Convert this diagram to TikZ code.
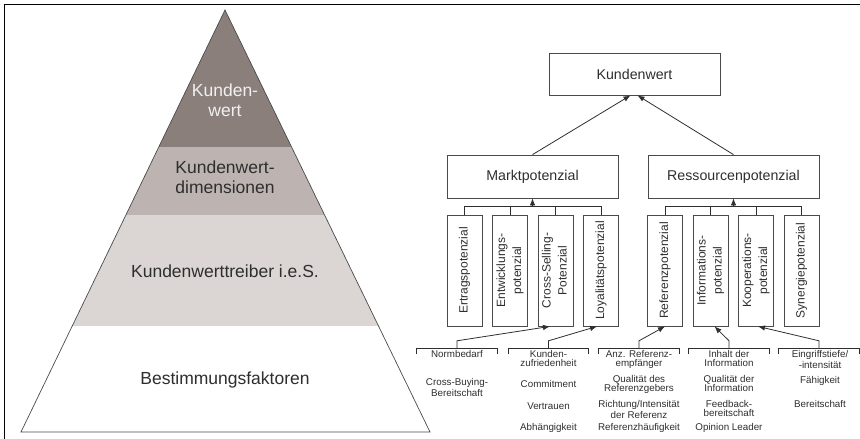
\documentclass[tikz,border=0pt]{standalone}
\usepackage{fontspec}
\setmainfont{Liberation Sans}
\usepackage{graphicx}
\usetikzlibrary{arrows.meta, calc}

\definecolor{pyrtop}{HTML}{8B7F7C}
\definecolor{pyrmid}{HTML}{BDB4B2}
\definecolor{pyrlow}{HTML}{DBD5D3}
\definecolor{ink}{HTML}{2E2E2E}
\definecolor{rim}{HTML}{4A4A4A}

% rotated, centred label for the narrow potential boxes
\newcommand{\vlab}[1]{\rotatebox{90}{\begin{tabular}{@{}c@{}}#1\end{tabular}}}

\begin{document}
\begin{tikzpicture}[x=1pt, y=-1pt,
    line/.style={draw=ink, line width=0.8pt},
    arr/.style={line, -{Latex[length=7pt, width=5.5pt]}},
    box/.style={draw=rim, line width=0.8pt, minimum width=171pt, minimum height=42pt,
        inner sep=0pt, text=ink, font=\fontsize{14.2}{16}\selectfont},
    potbox/.style={draw=rim, line width=0.8pt, minimum width=35pt, minimum height=111pt,
        inner sep=0pt, text=ink, font=\fontsize{12}{16}\selectfont},
    pyrtext/.style={align=center, inner sep=0pt, text=ink, font=\fontsize{17.5}{19.5}\selectfont},
    grp/.style={minimum width=80pt, minimum height=5pt, inner sep=0pt},
    fac/.style={anchor=north, inner sep=0pt, align=center, text=ink,
        font=\fontsize{9.8}{9}\selectfont}]
    % coordinates are image pixels, y grows downwards
    \useasboundingbox (0,0) rectangle (860,439);

    % frame (top and left only)
    \draw[black, line width=0.8pt] (4,439) -- (4,4) -- (860,4);

    % Pyramid
    \coordinate (apex) at (225,10);
    \coordinate (bl) at (21,432);
    \coordinate (br) at (430,432);
    \begin{scope}
        \clip (apex) -- (bl) -- (br) -- cycle;
        \fill[pyrtop] (0,0) rectangle (440,147);
        \fill[pyrmid] (0,147) rectangle (440,215);
        \fill[pyrlow] (0,215) rectangle (440,326);
    \end{scope}
    \draw[rim, line width=0.7pt] (apex) -- (bl) -- (br) -- cycle;

    \node[pyrtext, text=white!94!black] (pkw) at (225,100) {Kunden-\\wert};
    \node[pyrtext] (pdim) at (225,177) {Kundenwert-\\dimensionen};
    \node[pyrtext] (ptr) at (225,271) {Kundenwerttreiber i.e.S.};
    \node[pyrtext] (pbf) at (225,380) {Bestimmungsfaktoren};

    % Hierarchy
    \node[box] (kw) at (634.5,74) {Kundenwert};
    \node[box, minimum height=43pt] (mp) at (532.5,176.5) {Marktpotenzial};
    \node[box, minimum height=43pt] (rp) at (733.5,176.5) {Ressourcenpotenzial};
    \draw[arr] (mp.north) -- ([xshift=-4pt]kw.south);
    \draw[arr] (rp.north) -- ([xshift=3pt]kw.south);

    % potential boxes
    \node[potbox] (ertrag) at (464.5,270.5) {\vlab{Ertragspotenzial}};
    \node[potbox] (entw) at (510,270.5) {\vlab{Entwicklungs-\\potenzial}};
    \node[potbox] (cs) at (555.5,270.5) {\vlab{Cross-Selling-\\Potenzial}};
    \node[potbox] (loyal) at (601,270.5) {\vlab{Loyalitätspotenzial}};
    \node[potbox] (ref) at (665,270.5) {\vlab{Referenzpotenzial}};
    \node[potbox] (info) at (710.5,270.5) {\vlab{Informations-\\potenzial}};
    \node[potbox] (koop) at (756,270.5) {\vlab{Kooperations-\\potenzial}};
    \node[potbox] (syn) at (801.5,270.5) {\vlab{Synergiepotenzial}};

    % buses
    \draw[line] (ertrag.north) -- ++(0,-8) -| (loyal.north);
    \draw[line] (entw.north) -- ++(0,-8);
    \draw[line] (cs.north) -- ++(0,-8);
    \coordinate (mpbus) at ($(mp.south |- ertrag.north)+(0,-8)$);
    \draw[arr] (mpbus) -- (mp.south);
    \draw[line] (ref.north) -- ++(0,-8) -| (syn.north);
    \draw[line] (info.north) -- ++(0,-8);
    \draw[line] (koop.north) -- ++(0,-8);
    \coordinate (rpbus) at ($(rp.south |- ref.north)+(0,-8)$);
    \draw[arr] (rpbus) -- (rp.south);

    % factor groups
    \node[grp] (g1) at (457,351.5) {};
    \node[grp, minimum width=79pt] (g2) at (548.5,351.5) {};
    \node[grp] (g3) at (639,351.5) {};
    \node[grp] (g4) at (729,351.5) {};
    \node[grp] (g5) at (819,351.5) {};
    \foreach \g in {g1,g2,g3,g4,g5}
        \draw[line] (\g.south west) -- (\g.north west) -- (\g.north east) -- (\g.south east);

    \draw[arr] (g1.north) -- ++(0,-8) -- ([xshift=-5.5pt]cs.south);
    \draw[arr] (g2.north) -- ++(0,-8) -- ([xshift=-4pt]loyal.south);
    \draw[arr] (g3.north) -- ++(0,-8) -- (ref.south);
    \draw[arr] (g4.north) -- ++(0,-8) -- ([xshift=4pt]info.south);
    \draw[arr] (g5.north) -- ++(0,-8) -- ([xshift=2pt]koop.south);

    \node[fac] (f11) at (457,350.6) {Normbedarf};
    \node[fac] (f12) at (457,378.6) {Cross-Buying-\\Bereitschaft};

    \node[fac] (f21) at (548.5,350.6) {Kunden-\\zufriedenheit};
    \node[fac] (f22) at (548.5,380.6) {Commitment};
    \node[fac] (f23) at (548.5,402.6) {Vertrauen};
    \node[fac] (f24) at (548.5,423.6) {Abhängigkeit};

    \node[fac] (f31) at (639,350.6) {Anz. Referenz-\\empfänger};
    \node[fac] (f32) at (639,375.6) {Qualität des\\Referenzgebers};
    \node[fac] (f33) at (639,400.6) {Richtung/Intensität\\der Referenz};
    \node[fac] (f34) at (639,423.6) {Referenzhäufigkeit};

    \node[fac] (f41) at (729,350.6) {Inhalt der\\Information};
    \node[fac] (f42) at (729,375.6) {Qualität der\\Information};
    \node[fac] (f43) at (729,400.6) {Feedback-\\bereitschaft};
    \node[fac] (f44) at (729,423.6) {Opinion Leader};

    \node[fac] (f51) at (820,350.6) {Eingriffstiefe/\\-intensität};
    \node[fac] (f52) at (820,376.6) {Fähigkeit};
    \node[fac] (f53) at (820,400.6) {Bereitschaft};
\end{tikzpicture}
\end{document}
